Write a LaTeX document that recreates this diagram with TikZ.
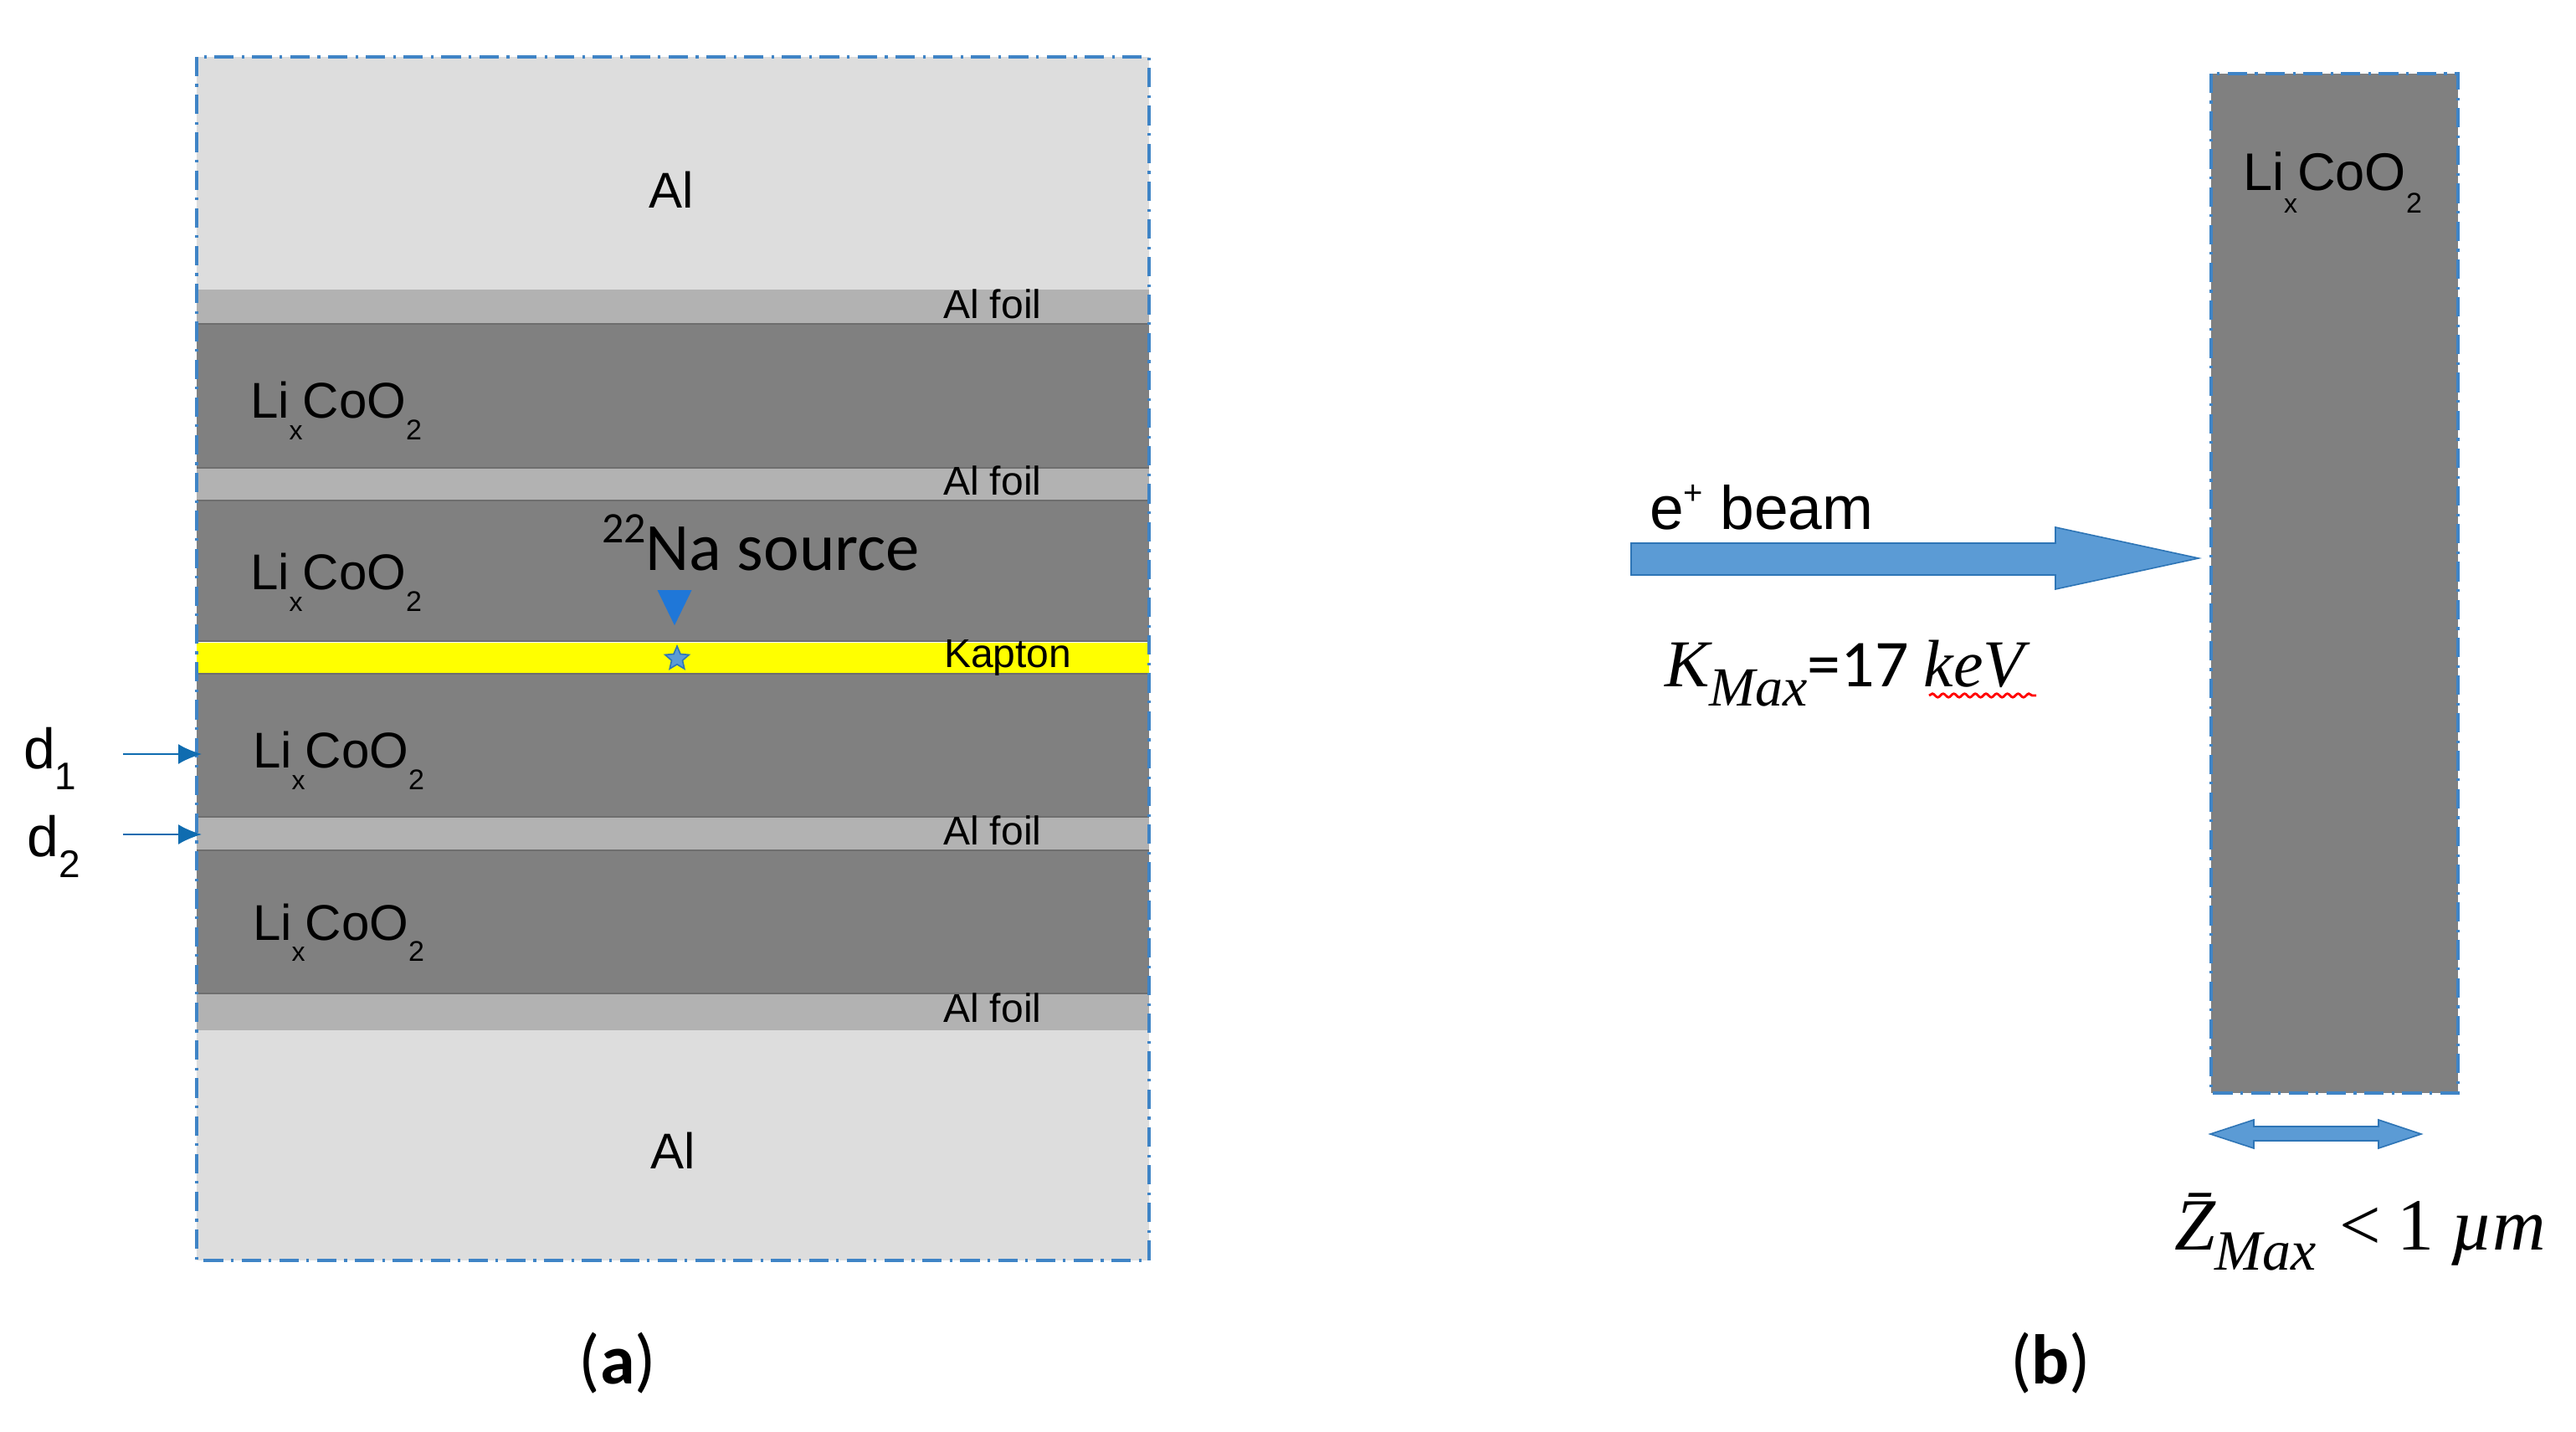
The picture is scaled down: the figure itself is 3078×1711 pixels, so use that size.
\documentclass[tikz,border=0pt]{standalone}
\usepackage{fontspec}
\setmainfont{Liberation Sans}
\newfontfamily\carl{Carlito}
\newfontfamily\camb{Liberation Serif}
\usetikzlibrary{decorations.pathmorphing,shapes.geometric,arrows.meta}
\definecolor{alc}{HTML}{DDDDDD}
\definecolor{foilc}{HTML}{B2B2B2}
\definecolor{lcoc}{HTML}{808080}
\definecolor{edgec}{HTML}{6E6E6E}
\definecolor{framec}{HTML}{3F84C6}
\definecolor{arrfill}{HTML}{5B9BD5}
\definecolor{arredge}{HTML}{2E75B6}
\definecolor{thinc}{HTML}{0F6CB0}
\definecolor{tric}{HTML}{1F77D8}
\definecolor{kapc}{HTML}{FFFF00}
\newcommand{\lco}{Li\raisebox{-.42em}{\fontsize{8}{9}\selectfont x}CoO\raisebox{-.42em}{\fontsize{8.5}{9}\selectfont 2}}
\newcommand{\msub}[1]{\raisebox{-.28em}{\fontsize{16.5}{18}\selectfont #1}}
\tikzset{
  txt/.style={anchor=base west,inner sep=0pt,outer sep=0pt,text=black},
  biglabel/.style={txt,font=\fontsize{15}{17}\selectfont},
  foil/.style={txt,font=\fontsize{12}{14}\selectfont},
  thinarrow/.style={draw=thinc,line width=0.6pt,-{Latex[length=7pt,width=6pt]}},
  blockarrow/.style={fill=arrfill,draw=arredge,line width=0.4pt,line join=miter},
  frameline/.style={draw=framec,line width=0.9pt,dash pattern=on 5.8pt off 2.3pt on 0.8pt off 2.4pt},
  topedge/.style={draw=edgec,line width=0.7pt},
}
\begin{document}
\begin{tikzpicture}[x=0.25pt,y=-0.25pt]
\useasboundingbox[fill=white] (0,0) rectangle (3078,1711);
% panel a bands
\fill[alc] (235,68) rectangle (1373,346);
\fill[foilc] (235,346) rectangle (1373,387);
\fill[lcoc] (235,387) rectangle (1373,559);
\fill[foilc] (235,559) rectangle (1373,598);
\fill[lcoc] (235,598) rectangle (1373,766);
\fill[kapc] (235,768) rectangle (1373,805);
\fill[lcoc] (235,805) rectangle (1373,976);
\fill[foilc] (235,976) rectangle (1373,1016);
\fill[lcoc] (235,1016) rectangle (1373,1187);
\fill[foilc] (235,1187) rectangle (1373,1231);
\fill[alc] (235,1231) rectangle (1373,1506);
\foreach \yy in {387,559,598,766,805,976,1016,1187}{\draw[topedge] (235,\yy) -- (1373,\yy);}
\draw[frameline] (235,68) rectangle (1373,1506);
% panel b rectangle
\fill[lcoc] (2642,88) rectangle (2937,1306);
\draw[frameline] (2642,88) rectangle (2937,1306);
% labels a
\node[biglabel] (altop) at (775,249) {Al};
\node[biglabel] (albot) at (777,1396) {Al};
\node[foil] (f1) at (1127,381) {Al foil};
\node[foil] (f2) at (1127,592) {Al foil};
\node[foil] (f3) at (1127,1010) {Al foil};
\node[foil] (f4) at (1127,1221) {Al foil};
\node[foil] (kap) at (1128,798) {Kapton};
\node[biglabel] (l1) at (299,500) {\lco};
\node[biglabel] (l2) at (299,705) {\lco};
\node[biglabel] (l3) at (302,918) {\lco};
\node[biglabel] (l4) at (302,1123) {\lco};
\node[biglabel,font=\fontsize{15.8}{18}\selectfont] (l5) at (2680,228) {\lco};
\node[txt,font=\carl\fontsize{20.2}{22}\selectfont] (na) at (719,682) {\raisebox{.42em}{\fontsize{13}{14}\selectfont 22}Na source};
% source marker
\node[draw=none,fill=tric,isosceles triangle,isosceles triangle apex angle=52,shape border rotate=-90,inner sep=0pt,minimum height=10.5pt,minimum width=10pt,anchor=apex] (trimark) at (806,749) {};
\node[star,star points=5,star point ratio=2.2,draw=arredge,fill=arrfill,line width=0.4pt,inner sep=0pt,minimum size=7.5pt] (src) at (809,787) {};
% d labels and arrows
\node[txt,font=\fontsize{17}{19}\selectfont] (d1) at (28,919) {d\raisebox{-.36em}{\fontsize{11.5}{13}\selectfont 1}};
\node[txt,font=\fontsize{17}{19}\selectfont] (d2) at (33,1024) {d\raisebox{-.36em}{\fontsize{11.5}{13}\selectfont 2}};
\coordinate (a1s) at (147,901);
\coordinate (a1e) at (241,901);
\coordinate (a2s) at (147,997);
\coordinate (a2e) at (241,997);
\draw[thinarrow] (a1s) -- (a1e);
\draw[thinarrow] (a2s) -- (a2e);
% beam arrow
\draw[blockarrow] (1949,649) -- (2456,649) -- (2456,630) -- (2627,667) -- (2456,704) -- (2456,687) -- (1949,687) -- cycle;
\node[txt,font=\fontsize{18.3}{20}\selectfont] (beam) at (1971,633) {e\raisebox{.42em}{\fontsize{10}{11}\selectfont +} beam};
% K max
\node[txt,font=\fontsize{20}{22}\selectfont] (k) at (1989,821) {{\camb\itshape K\msub{Max}}{\carl =17 }{\camb\itshape keV}};
\coordinate (ws) at (2305,831);
\coordinate (we) at (2433,831);
\draw[red,line width=0.7pt,decorate,decoration={snake,amplitude=0.55pt,segment length=3.2pt}] (ws) -- (we);
% double arrow
\draw[blockarrow] (2641,1355) -- (2693,1338) -- (2693,1346) -- (2842,1346) -- (2842,1338) -- (2893,1355) -- (2842,1372) -- (2842,1363) -- (2693,1363) -- (2693,1372) -- cycle;
% Z
\node[txt,font=\camb\itshape\fontsize{22}{24}\selectfont] (z) at (2598,1493) {\=Z\msub{\fontsize{17}{18}\selectfont Max}\hspace{.32em}{\upshape <\hspace{.22em}1}\hspace{.22em}\textmu m};
% captions
\node[txt,anchor=center,font=\carl\fontsize{21}{23}\selectfont] (ca) at (738,1629) {(\textbf{a})};
\node[txt,anchor=center,font=\carl\fontsize{21}{23}\selectfont] (cb) at (2450,1629) {(\textbf{b})};
\end{tikzpicture}
\end{document}
